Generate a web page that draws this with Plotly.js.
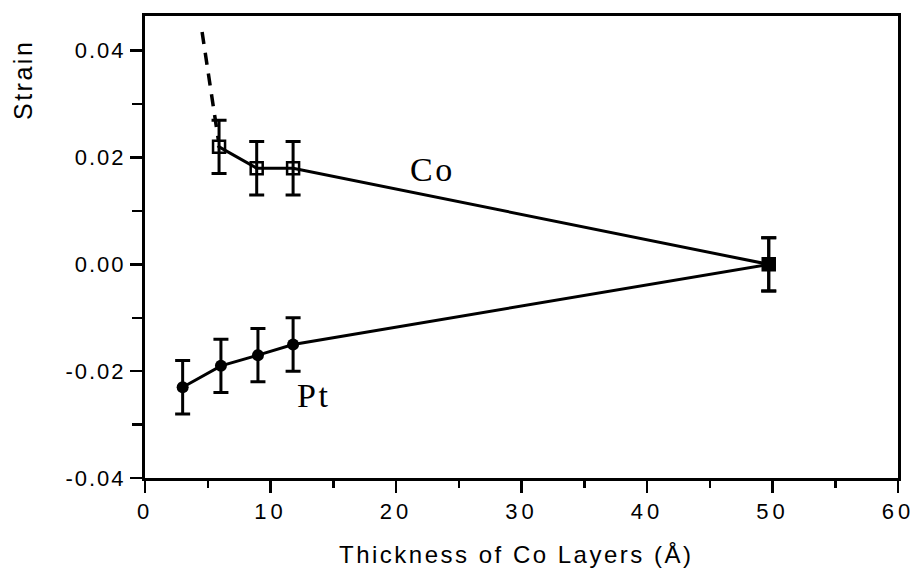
<!DOCTYPE html>
<html>
<head>
<meta charset="utf-8">
<script src="https://cdn.plot.ly/plotly-3.0.1.min.js"></script>
<style>
html,body{margin:0;padding:0;background:#fff;}
#chart{width:917px;height:587px;}
.xtick text{letter-spacing:4px;}
.ytick text{letter-spacing:2px;}
.annotation-text{letter-spacing:2.5px;}
</style>
</head>
<body>
<div id="chart"></div>
<script>
// Co layer strain
const coX = [5.9, 8.9, 11.8, 49.7];
const coY = [0.022, 0.018, 0.018, 0.000];
const coErr = [0.005, 0.005, 0.005, 0.005];
// Pt layer strain
const ptX = [3.0, 6.05, 9.0, 11.8, 49.7];
const ptY = [-0.023, -0.019, -0.017, -0.015, 0.000];
const ptErr = [0.005, 0.005, 0.005, 0.005, 0.005];
// dashed extrapolation of Co strain at small thickness
const dashX = [4.55, 5.85];
const dashY = [0.0435, 0.0232];

const xTickVals = [0, 10, 20, 30, 40, 50, 60];
const xTickText = ['0', '10', '20', '30', '40', '50', '60'];
const yTickVals = [-0.04, -0.02, 0.00, 0.02, 0.04];
const yTickText = ['-0.04', '-0.02', '0.00', '0.02', '0.04'];

const coSymbols = coX.map((v, i) => i === coX.length - 1 ? 'square' : 'square-open-dot');
const ptSymbols = ptX.map((v, i) => i === ptX.length - 1 ? 'square' : 'circle');

const traces = [
  {
    x: ptX, y: ptY, type: 'scatter', mode: 'lines+markers',
    line: {color: '#000', width: 3},
    marker: {symbol: ptSymbols, size: 12, color: '#000', line: {color: '#000', width: 0}},
    error_y: {type: 'data', array: ptErr, visible: true, color: '#000', thickness: 3, width: 7.5},
    showlegend: false, cliponaxis: false
  },
  {
    x: coX, y: coY, type: 'scatter', mode: 'lines+markers',
    line: {color: '#000', width: 3},
    marker: {symbol: coSymbols, size: 12, color: '#000', line: {color: '#000', width: 2.5}},
    error_y: {type: 'data', array: coErr, visible: true, color: '#000', thickness: 3, width: 7.5},
    showlegend: false, cliponaxis: false
  },
  {
    x: dashX, y: dashY, type: 'scatter', mode: 'lines',
    line: {color: '#000', width: 3.5, dash: '12px,9px'},
    showlegend: false
  }
];

const fontSans = 'Liberation Sans, Arial, sans-serif';
const fontSerif = 'Liberation Serif, Times New Roman, serif';

const layout = {
  width: 917, height: 587,
  margin: {l: 145, r: 19, t: 16, b: 109},
  paper_bgcolor: '#fff', plot_bgcolor: '#fff',
  xaxis: {
    range: [0, 60], showgrid: false, zeroline: false,
    showline: true, linecolor: '#000', linewidth: 3, mirror: true,
    ticks: 'outside', ticklen: 12, tickwidth: 2.5, tickcolor: '#000',
    tickvals: xTickVals, ticktext: xTickText,
    tickfont: {family: fontSans, size: 22, color: '#000'},
    minor: {dtick: 5, ticks: 'outside', ticklen: 7, tickwidth: 2.5, tickcolor: '#000', showgrid: false}
  },
  yaxis: {
    range: [-0.04, 0.0465], showgrid: false, zeroline: false,
    showline: true, linecolor: '#000', linewidth: 3, mirror: true,
    ticks: 'outside', ticklen: 12, tickwidth: 2.5, tickcolor: '#000',
    tickvals: yTickVals, ticktext: yTickText,
    tickfont: {family: fontSans, size: 22, color: '#000'},
    minor: {dtick: 0.01, ticks: 'outside', ticklen: 10, tickwidth: 2.5, tickcolor: '#000', showgrid: false}
  },
  annotations: [
    {text: 'Co', x: 22.9, y: 0.0178, xref: 'x', yref: 'y', showarrow: false,
     xanchor: 'center', yanchor: 'middle',
     font: {family: fontSerif, size: 34, color: '#000'}},
    {text: 'Pt', x: 13.4, y: -0.0245, xref: 'x', yref: 'y', showarrow: false,
     xanchor: 'center', yanchor: 'middle',
     font: {family: fontSerif, size: 34, color: '#000'}},
    {text: 'Strain', x: -0.163, y: 0.862, xref: 'paper', yref: 'paper', showarrow: false,
     xanchor: 'center', yanchor: 'middle',
     textangle: -90, font: {family: fontSans, size: 25, color: '#000'}},
    {text: 'Thickness of Co Layers (Å)', x: 0.493, y: -0.165, xref: 'paper', yref: 'paper',
     xanchor: 'center', yanchor: 'middle',
     showarrow: false, font: {family: fontSans, size: 24, color: '#000'}}
  ]
};

Plotly.newPlot('chart', traces, layout, {staticPlot: true, displayModeBar: false});
</script>
</body>
</html>
